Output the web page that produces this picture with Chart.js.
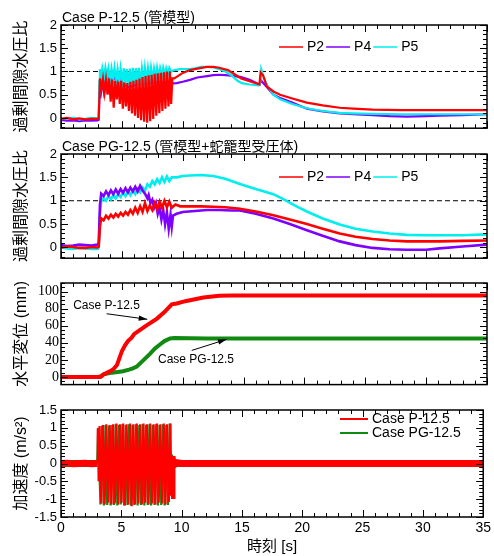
<!DOCTYPE html>
<html>
<head>
<meta charset="utf-8">
<script src="https://cdn.jsdelivr.net/npm/chart.js@4.4.0/dist/chart.umd.min.js"></script>
<style>
  body { margin: 0; background: #fff; width: 494px; height: 556px; position: relative; overflow: hidden; }
  canvas { position: absolute; left: 0; }
</style>
</head>
<body>
<canvas id="c1" width="494" height="140" style="top:0px"></canvas>
<canvas id="c2" width="494" height="130" style="top:140px"></canvas>
<canvas id="c3" width="494" height="125" style="top:270px"></canvas>
<canvas id="c4" width="494" height="161" style="top:395px"></canvas>
<script>
const SANS = "'Liberation Sans', 'Noto Sans CJK JP', sans-serif";
const SERIF = "'Liberation Serif', 'Noto Sans CJK JP', serif";

// axes
const xTicks = [0, 5, 10, 15, 20, 25, 30, 35];
const ratioTicks = [0, 0.5, 1, 1.5, 2];
const dispTicks = [0, 20, 40, 60, 80, 100];
const accTicks = [-1.5, -1, -0.5, 0, 0.5, 1, 1.5];

const gaugeNames = ['P2', 'P4', 'P5'];
const gaugeColors = ['#ff0000', '#7f00ff', '#00eeee'];
const caseNames = ['Case P-12.5', 'Case PG-12.5'];
const caseColors = ['#ff0000', '#108a10'];

// excess pore pressure ratio = 1
const refLine = [[0, 1], [35, 1]];

// Case P-12.5 pore pressure ratio [t (s), ratio]
const pP2 = [[0,-0.02],[0.5,0],[1,-0.03],[1.5,-0.01],[2,-0.03],[2.5,-0.02],[3,-0.02],[3.1,0],
  [3.2,0.85],[3.33,0.62],[3.45,0.84],[3.58,0.55],[3.7,0.82],[3.83,0.5],[3.95,0.85],[4.08,0.35],[4.2,0.82],[4.33,0.22],
  [4.45,0.8],[4.58,0.4],[4.7,0.78],[4.83,0.3],[4.95,0.8],[5.08,0.2],[5.2,0.76],[5.33,0.25],[5.45,0.75],[5.58,0.15],
  [5.7,0.78],[5.83,0.1],[5.95,0.8],[6.08,0.05],[6.2,0.82],[6.33,0],[6.45,0.85],[6.58,-0.05],[6.7,0.88],[6.83,-0.08],
  [6.95,0.9],[7.08,-0.1],[7.2,0.92],[7.33,-0.07],[7.45,0.93],[7.58,-0.02],[7.7,0.95],[7.83,0.05],[7.95,0.96],[8.08,0.1],
  [8.2,0.97],[8.33,0.15],[8.45,0.98],[8.58,0.2],[8.7,1],[8.83,0.25],[8.95,1],[9.05,0.3],[9.15,0.85],
  [9.3,0.85],[9.6,0.9],[10,0.97],[10.6,1.03],[11.2,1.06],[12,1.1],[12.5,1.1],[13,1.08],[13.7,1.03],[14.2,0.95],
  [14.8,0.85],[15.5,0.79],[16.2,0.73],[16.3,0.72],[16.4,0.98],[16.6,0.92],[16.9,0.68],[17.45,0.57],[18,0.5],[19,0.42],
  [20.2,0.33],[21.5,0.27],[22.9,0.22],[24,0.2],[25.6,0.18],[28,0.17],[30,0.17],[32,0.17],[35,0.17]];
const pP4 = [[0,-0.04],[0.5,-0.06],[1,-0.05],[1.5,-0.07],[2,-0.05],[2.5,-0.06],[3,-0.05],[3.1,-0.04],[3.15,0.45],
  [3.2,0.8],[3.3,0.6],[3.4,0.85],[3.5,0.62],[3.6,0.88],[3.7,0.68],[3.8,0.9],[3.9,0.7],[4,0.9],[4.2,0.76],[4.4,0.9],
  [4.6,0.74],[4.8,0.88],[5,0.78],[5.3,0.7],[5.6,0.66],[6,0.7],[6.5,0.74],[7,0.75],[7.5,0.76],[8,0.78],[8.5,0.76],
  [9,0.74],[9.5,0.75],[10,0.78],[10.6,0.82],[11.2,0.87],[12,0.9],[12.5,0.92],[13,0.93],[13.5,0.92],[14,0.91],
  [14.8,0.88],[15.5,0.82],[16.3,0.72],[16.45,0.8],[16.8,0.7],[17.45,0.5],[18,0.43],[19,0.33],[20.2,0.2],[21.5,0.14],
  [22.9,0.1],[24,0.08],[25.6,0.06],[27,0.04],[28.4,0.03],[30,0.04],[31.1,0.05],[33,0.06],[35,0.08]];
const pP5 = [[0,-0.02],[0.5,0],[1,0],[1.5,-0.03],[2,-0.02],[2.5,0],[3,-0.01],[3.1,0.02],[3.15,0.8],[3.2,1.05],
  [3.3,0.85],[3.4,1.07],[3.55,0.88],[3.65,1.08],[3.8,0.85],[3.9,1.06],[4.05,0.82],[4.15,1.07],[4.3,0.85],[4.4,1.08],
  [4.55,0.8],[4.65,1.05],[4.8,0.78],[4.9,1.06],[5.05,0.75],[5.15,1.07],[5.3,0.72],[5.4,1.05],[5.55,0.7],[5.65,1.06],
  [5.8,0.7],[5.9,1.08],[6.05,0.72],[6.15,1.07],[6.3,0.7],[6.4,1.08],[6.55,0.72],[6.65,1.06],[6.8,0.75],[6.9,1.08],
  [7.05,0.78],[7.15,1.07],[7.3,0.8],[7.4,1.08],[7.55,0.82],[7.65,1.06],[7.8,0.85],[7.9,1.08],[8.05,0.88],[8.15,1.07],
  [8.3,0.9],[8.4,1.08],[8.55,0.92],[8.65,1.07],[8.8,0.95],[8.9,1.08],[9.05,1],[9.3,1.03],[9.8,1.05],[10.5,1.05],
  [11,1.07],[11.5,1.1],[12,1.1],[12.5,1.09],[13,1.05],[13.5,1],[14,0.92],[14.5,0.8],[14.85,0.75],[15.5,0.72],
  [16.2,0.7],[16.35,0.72],[16.45,1.05],[16.6,0.92],[16.9,0.72],[17.45,0.5],[18,0.4],[19,0.3],[20.2,0.21],[21.5,0.15],
  [22.9,0.11],[24,0.1],[25.6,0.09],[28,0.08],[31,0.08],[35,0.08]];

// Case PG-12.5 pore pressure ratio
const pgP2 = [[0,0],[0.5,0.02],[1,0.01],[1.5,-0.01],[2,-0.01],[2.5,0.01],[3,0],[3.1,0.02],[3.2,0.45],[3.3,0.62],
  [3.5,0.58],[3.7,0.68],[3.9,0.62],[4.1,0.7],[4.3,0.64],[4.5,0.72],[4.7,0.66],[4.9,0.74],[5.1,0.68],[5.3,0.76],
  [5.5,0.7],[5.7,0.8],[5.9,0.72],[6.1,0.85],[6.3,0.74],[6.5,0.88],[6.7,0.76],[6.9,0.95],[7.1,0.78],[7.3,0.9],
  [7.5,0.8],[7.7,0.95],[7.9,0.82],[8.1,0.98],[8.3,0.85],[8.5,1],[8.7,0.86],[8.9,0.98],[9.1,0.85],[9.4,0.92],
  [9.8,0.88],[10.5,0.88],[11.5,0.88],[12.5,0.87],[13.5,0.86],[14.7,0.83],[16,0.77],[17.45,0.69],[18.8,0.6],[20.2,0.5],
  [21.5,0.4],[22.9,0.3],[24.2,0.23],[25.6,0.18],[27,0.15],[28.4,0.13],[30,0.13],[31.1,0.13],[33,0.14],[35,0.15]];
const pgP4 = [[0,0.05],[0.5,0.03],[1,0.04],[1.5,0.06],[2,0.05],[2.5,0.04],[3,0.06],[3.1,0.1],[3.2,0.9],[3.3,1.15],
  [3.5,1.1],[3.7,1.2],[3.9,1.12],[4.1,1.22],[4.3,1.14],[4.5,1.24],[4.7,1.15],[4.9,1.25],[5.1,1.17],[5.3,1.27],
  [5.5,1.18],[5.7,1.28],[5.9,1.2],[6.1,1.3],[6.3,1.2],[6.5,1.32],[6.7,1.22],[6.9,1.15],[7.1,1.05],[7.2,1.12],
  [7.35,0.95],[7.5,1.02],[7.65,0.85],[7.8,0.95],[7.95,0.72],[8.1,0.85],[8.25,0.6],[8.4,0.8],[8.55,0.5],[8.7,0.75],
  [8.85,0.4],[9,0.7],[9.1,0.45],[9.2,0.68],[9.5,0.72],[10,0.76],[11,0.78],[12,0.8],[13,0.8],[14,0.79],[14.7,0.79],
  [16,0.72],[17.45,0.62],[18.8,0.5],[20.2,0.37],[21.5,0.25],[22.9,0.13],[24.2,0.05],[25.6,-0.01],[27,-0.04],
  [28.4,-0.05],[30,-0.05],[31.1,-0.02],[33,0.02],[35,0.06]];
const pgP5 = [[0,0],[0.5,-0.02],[1,-0.03],[1.5,-0.01],[2,-0.02],[2.5,-0.03],[3,-0.03],[3.1,0],[3.2,0.7],[3.3,1],
  [3.5,1.05],[3.7,1],[3.9,1.1],[4.1,1.03],[4.3,1.12],[4.5,1.05],[4.7,1.14],[4.9,1.08],[5.1,1.18],[5.3,1.1],
  [5.5,1.2],[5.7,1.12],[5.9,1.22],[6.1,1.14],[6.3,1.25],[6.5,1.18],[6.7,1.28],[6.9,1.22],[7.1,1.35],[7.3,1.3],
  [7.5,1.42],[7.7,1.35],[7.9,1.46],[8.1,1.38],[8.3,1.5],[8.5,1.4],[8.7,1.52],[8.9,1.42],[9.1,1.5],[9.5,1.5],
  [10,1.53],[10.6,1.54],[11.5,1.55],[12.5,1.53],[13.5,1.47],[14.7,1.36],[16,1.25],[17.45,1.14],[18.3,1.03],[19.2,0.9],
  [20.2,0.77],[21.5,0.62],[22.9,0.49],[24.2,0.4],[25.6,0.34],[27,0.3],[28.4,0.27],[30,0.26],[31.1,0.26],[33,0.26],[35,0.28]];

// horizontal displacement (mm)
const dispP = [[0,0],[1,0],[2,0],[3,0],[3.3,0.5],[3.5,3],[4,6.5],[4.3,9],[4.6,14],[4.8,22],[5,30],[5.26,37],
  [5.5,42],[5.8,46],[6,50],[6.5,55],[7,60],[7.86,68],[8.5,76],[9.1,85],[9.5,86],[10.3,89],[11.7,93],[13,95],
  [14,95.5],[20,95.5],[25,95.5],[30,95.5],[35,95.5]];
const dispPG = [[0,0],[1,0],[2,0],[3,0],[3.2,0],[3.5,3],[4,4.5],[4.5,5.5],[5.1,6.7],[5.6,8.5],[5.9,10],[6.22,12],
  [6.8,20],[7.31,27],[7.7,33],[8.13,38],[8.5,42],[8.96,45],[9.3,45.5],[12,45],[20,45],[35,45]];

// acceleration (m/s2)
const accP = [[0,0],[0.5,0.01],[1,-0.01],[1.5,0],[2,0.01],[2.5,-0.01],[2.9,0],[3,0],
  [3.05,0.98],[3.12,-0.5],[3.2,1.05],[3.34,-1.12],[3.48,1.08],[3.62,-1.15],[3.76,1.1],[3.9,-1.1],[4.04,1.08],
  [4.18,-1.15],[4.32,1.1],[4.46,-1.12],[4.6,1.12],[4.74,-1.15],[4.88,1.1],[5.02,-1.1],[5.16,1.12],[5.3,-1.18],
  [5.44,1.1],[5.58,-1.15],[5.72,1.12],[5.86,-1.2],[6,1.1],[6.14,-1.15],[6.28,1.12],[6.42,-1.12],[6.56,1.1],
  [6.7,-1.15],[6.84,1.12],[6.98,-1.1],[7.12,1.1],[7.26,-1.15],[7.4,1.12],[7.54,-1.12],[7.68,1.1],[7.82,-1.15],
  [7.96,1.12],[8.1,-1.1],[8.24,1.1],[8.38,-1.12],[8.52,1.12],[8.66,-1.15],[8.8,1.1],[8.94,-1.08],[9.08,1.12],
  [9.12,-0.9],[9.2,0.2],[9.3,-0.05],[9.6,0.02],[10,0],[12,0],[15,0],[20,0],[25,0],[30,0],[35,0]];
const accPG = [[0,0],[1,0],[2,0],[3,0],
  [3.08,1],[3.27,-1.15],[3.41,1.06],[3.55,-1.18],[3.69,1.08],[3.83,-1.16],[3.97,1.06],[4.11,-1.18],[4.25,1.08],
  [4.39,-1.16],[4.53,1.1],[4.67,-1.18],[4.81,1.08],[4.95,-1.15],[5.09,1.1],[5.23,-1.18],[5.37,1.08],[5.51,-1.16],
  [5.65,1.1],[5.79,-1.18],[5.93,1.08],[6.07,-1.16],[6.21,1.1],[6.35,-1.18],[6.49,1.08],[6.63,-1.16],[6.77,1.1],
  [6.91,-1.18],[7.05,1.08],[7.19,-1.16],[7.33,1.1],[7.47,-1.18],[7.61,1.08],[7.75,-1.16],[7.89,1.1],[8.03,-1.18],
  [8.17,1.08],[8.31,-1.16],[8.45,1.1],[8.59,-1.18],[8.73,1.08],[8.87,-1.16],[9.01,1.12],[9.1,-0.6],
  [9.2,0.1],[9.4,0],[12,0],[20,0],[35,0]];
const shakeStart = 3.0, shakeEnd = 9.15;

// annotations in panel 3, data coordinates
const dispNotes = [[1.0, 84, 'Case P-12.5'], [7.97, 20, 'Case PG-12.5']];
const dispArrows = [[[3.75, 74], [7.09, 67.5]], [[10.74, 31], [13.6, 44]]];

const pts = arr => arr.map(([x, y]) => ({x, y}));

// frame and inward ticks on all four sides
const frame = {
  id: 'frame',
  afterDatasetsDraw(chart, args, o) {
    const {ctx, chartArea: a, scales: {x, y}} = chart;
    ctx.save();
    ctx.strokeStyle = '#000';
    ctx.lineWidth = 1;
    ctx.beginPath();
    const nx = Math.round((x.max - x.min) / o.xMinor);
    for (let i = 0; i <= nx; i++) {
      const v = x.min + i * o.xMinor;
      const px = Math.round(x.getPixelForValue(v)) + 0.5;
      const len = Math.abs(v / o.xMajor - Math.round(v / o.xMajor)) < 1e-6 ? 7 : 4;
      ctx.moveTo(px, a.bottom); ctx.lineTo(px, a.bottom - len);
      ctx.moveTo(px, a.top); ctx.lineTo(px, a.top + len);
    }
    const i0 = Math.ceil(y.min / o.yMinor - 1e-6), i1 = Math.floor(y.max / o.yMinor + 1e-6);
    for (let i = i0; i <= i1; i++) {
      const v = i * o.yMinor;
      const py = Math.round(y.getPixelForValue(v)) + 0.5;
      const len = Math.abs(v / o.yMajor - Math.round(v / o.yMajor)) < 1e-6 ? 7 : 4;
      ctx.moveTo(a.left, py); ctx.lineTo(a.left + len, py);
      ctx.moveTo(a.right, py); ctx.lineTo(a.right - len, py);
    }
    ctx.stroke();
    ctx.lineWidth = 1.5;
    ctx.strokeRect(a.left, a.top, a.right - a.left, a.bottom - a.top);
    ctx.restore();
  }
};

// panel title, legends, notes
const decor = {
  id: 'decor',
  afterDraw(chart, args, o) {
    const {ctx, chartArea: a, scales: {x, y}} = chart;
    ctx.save();
    ctx.fillStyle = '#000';
    if (o.title) {
      ctx.font = '14px ' + SANS;
      ctx.textBaseline = 'alphabetic';
      ctx.fillText(o.title, a.left + 1, a.top - 3);
    }
    if (o.row) {
      let px = o.row.x;
      const py = a.top + o.row.dy;
      ctx.font = '14px ' + SANS;
      ctx.textBaseline = 'middle';
      o.row.names.forEach((n, i) => {
        ctx.strokeStyle = o.row.colors[i];
        ctx.lineWidth = 1.5;
        ctx.beginPath(); ctx.moveTo(px, py); ctx.lineTo(px + 24, py); ctx.stroke();
        ctx.fillStyle = '#000';
        ctx.fillText(n, px + 28, py);
        px += 28 + ctx.measureText(n).width + 2;
      });
    }
    if (o.column) {
      ctx.font = '14px ' + SANS;
      ctx.textBaseline = 'middle';
      o.column.names.forEach((n, i) => {
        const py = a.top + o.column.dy + i * 14;
        ctx.strokeStyle = o.column.colors[i];
        ctx.lineWidth = 2;
        ctx.beginPath(); ctx.moveTo(o.column.x, py); ctx.lineTo(o.column.x + 28, py); ctx.stroke();
        ctx.fillStyle = '#000';
        ctx.fillText(n, o.column.x + 32, py);
      });
    }
    if (o.notes) {
      ctx.font = '12px ' + SANS;
      ctx.textBaseline = 'middle';
      o.notes.forEach(([t, v, s]) => ctx.fillText(s, x.getPixelForValue(t), y.getPixelForValue(v)));
      ctx.strokeStyle = '#000';
      ctx.lineWidth = 1;
      o.arrows.forEach(([p, q]) => {
        const x0 = x.getPixelForValue(p[0]), y0 = y.getPixelForValue(p[1]);
        const x1 = x.getPixelForValue(q[0]), y1 = y.getPixelForValue(q[1]);
        const ang = Math.atan2(y1 - y0, x1 - x0);
        ctx.beginPath(); ctx.moveTo(x0, y0); ctx.lineTo(x1, y1); ctx.stroke();
        ctx.beginPath();
        ctx.moveTo(x1, y1);
        ctx.lineTo(x1 - 9 * Math.cos(ang - 0.3), y1 - 9 * Math.sin(ang - 0.3));
        ctx.lineTo(x1 - 9 * Math.cos(ang + 0.3), y1 - 9 * Math.sin(ang + 0.3));
        ctx.closePath(); ctx.fill();
      });
    }
    ctx.restore();
  }
};

function yAxis(min, max, tickList, title, family, size, labelPad) {
  return {
    min, max,
    afterFit: s => { s.width = 61; },
    afterBuildTicks: s => { s.ticks = tickList.map(v => ({value: v})); },
    grid: {display: false, drawTicks: false},
    border: {display: false},
    ticks: {color: '#000', padding: labelPad, autoSkip: false, callback: v => String(v), font: {family, size}},
    title: {display: true, text: title, color: '#000', font: {family: SANS, size: 16}, padding: {top: 12, bottom: 0}}
  };
}

function line(data, color, width, dash) {
  return {data: pts(data), borderColor: color, borderWidth: width, borderDash: dash || [],
    pointRadius: 0, tension: 0, fill: false};
}

function makeChart(id, pad, datasets, y, x, ticks, deco) {
  return new Chart(document.getElementById(id), {
    type: 'line',
    data: {datasets},
    options: {
      responsive: false, animation: false, devicePixelRatio: 1,
      layout: {padding: {left: 0, right: 7, top: pad[0], bottom: pad[1]}},
      plugins: {legend: {display: false}, tooltip: {enabled: false}, frame: ticks, decor: deco},
      scales: {x, y}
    },
    plugins: [frame, decor]
  });
}

const hiddenX = {type: 'linear', min: 0, max: 35, display: false};

makeChart('c1', [25, 7], [
  line(pP2, gaugeColors[0], 2.2),
  line(pP5, gaugeColors[2], 2.2),
  line(pP4, gaugeColors[1], 2.2),
  line(refLine, '#000', 1, [5, 3])
], yAxis(-0.22, 2, ratioTicks, '過剰間隙水圧比', SANS, 13, 4), hiddenX,
  {xMajor: 5, xMinor: 1, yMajor: 0.5, yMinor: 0.1},
  {title: 'Case P-12.5 (管模型)', row: {names: gaugeNames, colors: gaugeColors, x: 279, dy: 22}});

makeChart('c2', [14, 9], [
  line(pgP2, gaugeColors[0], 2.6),
  line(pgP4, gaugeColors[1], 2.6),
  line(pgP5, gaugeColors[2], 2.6),
  line(refLine, '#000', 1, [5, 3])
], yAxis(-0.23, 2, ratioTicks, '過剰間隙水圧比', SANS, 13, 4), hiddenX,
  {xMajor: 5, xMinor: 1, yMajor: 0.5, yMinor: 0.1},
  {title: 'Case PG-12.5 (管模型+蛇籠型受圧体)', row: {names: gaugeNames, colors: gaugeColors, x: 279, dy: 23}});

makeChart('c3', [13, 6], [
  line(dispP, caseColors[0], 4),
  line(dispPG, caseColors[1], 4)
], yAxis(-9, 110, dispTicks, '水平変位 (mm)', SERIF, 14, 2), hiddenX,
  {xMajor: 5, xMinor: 1, yMajor: 20, yMinor: 5},
  {notes: dispNotes, arrows: dispArrows});

const shakeWidth = c => (c.p0.parsed.x >= shakeStart && c.p1.parsed.x <= shakeEnd) ? 2.2 : 7;
const accLine = (data, color) => Object.assign(line(data, color, 7), {segment: {borderWidth: shakeWidth}});

makeChart('c4', [15, 0], [
  accLine(accP, caseColors[0]),
  accLine(accPG, caseColors[1])
], yAxis(-1.5, 1.5, accTicks, '加速度 (m/s²)', SANS, 13, 4), {
  type: 'linear', min: 0, max: 35,
  afterFit: s => { s.height = 39; },
  afterBuildTicks: s => { s.ticks = xTicks.map(v => ({value: v})); },
  grid: {display: false, drawTicks: false},
  border: {display: false},
  ticks: {color: '#000', padding: 3, maxRotation: 0, autoSkip: false, font: {family: SANS, size: 14}},
  title: {display: true, text: '時刻 [s]', color: '#000', font: {family: SANS, size: 15}, padding: {top: 0, bottom: 0}}
}, {xMajor: 5, xMinor: 1, yMajor: 0.5, yMinor: 0.1},
  {column: {names: caseNames, colors: caseColors, x: 340, dy: 9}});
</script>
</body>
</html>
